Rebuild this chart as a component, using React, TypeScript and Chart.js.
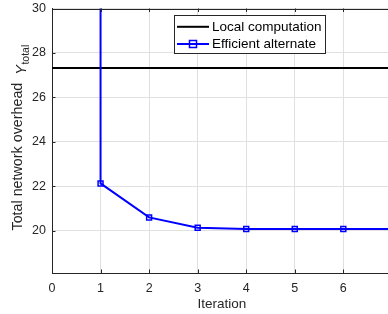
import React, { useEffect, useRef } from "react";
import { Chart, registerables } from "chart.js";

Chart.register(...registerables);

const iterations = [1, 1, 2, 3, 4, 5, 6, 7];
const efficientOverhead = [60, 22.13, 20.6, 20.14, 20.08, 20.08, 20.08, 20.08];
const localX = [0, 7];
const localOverhead = [27.32, 27.32];
const xTicks = [0, 1, 2, 3, 4, 5, 6];
const yTicks = [20, 22, 24, 26, 28, 30];
const seriesLabels = ["Local computation", "Efficient alternate"];
const xTitle = "Iteration";
const yTitleMain = "Total network overhead  ";
const yTitleVar = "Y";
const yTitleSub = "total";

const FONT = "'Liberation Sans', Arial, Helvetica, sans-serif";
const AX = "#262626";

const decorPlugin = {
  id: "decor",
  afterDatasetsDraw(chart: any) {
    const ctx = chart.ctx;
    const { left, right, top, bottom } = chart.chartArea;
    const xs = chart.scales.x;
    const ys = chart.scales.y;
    ctx.save();
    // top border
    ctx.strokeStyle = AX;
    ctx.lineWidth = 1;
    ctx.beginPath();
    ctx.moveTo(left, Math.round(top) + 0.5);
    ctx.lineTo(right, Math.round(top) + 0.5);
    ctx.stroke();
    // inner ticks
    ctx.beginPath();
    xTicks.forEach((v) => {
      const px = Math.round(xs.getPixelForValue(v)) + 0.5;
      ctx.moveTo(px, bottom);
      ctx.lineTo(px, bottom - 3.5);
      ctx.moveTo(px, top);
      ctx.lineTo(px, top + 3.5);
    });
    yTicks.forEach((v) => {
      const py = Math.round(ys.getPixelForValue(v)) + 0.5;
      ctx.moveTo(left, py);
      ctx.lineTo(left + 3.5, py);
    });
    ctx.stroke();

    // x title
    ctx.fillStyle = AX;
    ctx.font = `13.5px ${FONT}`;
    ctx.textAlign = "center";
    ctx.textBaseline = "middle";
    ctx.fillText(xTitle, xs.getPixelForValue(3.5), 304);

    // y title
    const mainFont = `14.3px ${FONT}`;
    const varFont = `italic 14.5px ${FONT}`;
    const subFont = `10.5px ${FONT}`;
    ctx.font = mainFont;
    const w1 = ctx.measureText(yTitleMain).width;
    ctx.font = varFont;
    const w2 = ctx.measureText(yTitleVar).width;
    ctx.translate(22, 230.5);
    ctx.rotate(-Math.PI / 2);
    ctx.textAlign = "left";
    ctx.textBaseline = "alphabetic";
    ctx.font = mainFont;
    ctx.fillText(yTitleMain, 0, 0);
    ctx.font = varFont;
    ctx.fillText(yTitleVar, w1, 4);
    ctx.font = subFont;
    ctx.fillText(yTitleSub, w1 + w2 + 0.5, 7);
    ctx.restore();

    // legend
    ctx.save();
    const bx = 174.5, by = 15.5, bw = 151, bh = 38;
    ctx.fillStyle = "#ffffff";
    ctx.fillRect(bx, by, bw, bh);
    ctx.strokeStyle = AX;
    ctx.lineWidth = 1;
    ctx.strokeRect(bx, by, bw, bh);
    const rows = [26.8, 44];
    chart.data.datasets.forEach((ds: any, i: number) => {
      const yy = rows[i];
      ctx.strokeStyle = ds.borderColor;
      ctx.lineWidth = 2;
      ctx.beginPath();
      ctx.moveTo(177, yy);
      ctx.lineTo(209, yy);
      ctx.stroke();
      if (ds.pointRadius > 0) {
        ctx.lineWidth = 1.5;
        ctx.strokeRect(193 - 3.5, yy - 3.5, 7, 7);
      }
      ctx.fillStyle = "#000000";
      ctx.font = `13.5px ${FONT}`;
      ctx.textAlign = "left";
      ctx.textBaseline = "middle";
      ctx.fillText(ds.label, 212, yy + 0.5);
    });
    ctx.restore();
  },
};

const zeroPad = (s: any) => {
  s.paddingTop = 0;
  s.paddingBottom = 0;
  s.paddingLeft = 0;
  s.paddingRight = 0;
};

export default function App() {
  const ref = useRef<HTMLCanvasElement | null>(null);
  useEffect(() => {
    if (!ref.current) return;
    const chart = new Chart(ref.current, {
      type: "line",
      data: {
        datasets: [
          {
            label: seriesLabels[0],
            data: localX.map((x, i) => ({ x, y: localOverhead[i] })),
            borderColor: "#000000",
            borderWidth: 2,
            pointRadius: 0,
            order: 2,
          },
          {
            label: seriesLabels[1],
            data: iterations.map((x, i) => ({ x, y: efficientOverhead[i] })),
            borderColor: "#0000ff",
            borderWidth: 2,
            pointStyle: "rect",
            pointRadius: 3.5,
            pointBorderWidth: 1.5,
            pointBackgroundColor: "rgba(0,0,0,0)",
            pointBorderColor: "#0000ff",
            order: 1,
          },
        ],
      },
      options: {
        animation: false,
        responsive: false,
        devicePixelRatio: 1,
        layout: { autoPadding: false, padding: { top: 8.5, left: 0, right: 0, bottom: 0 } },
        plugins: { legend: { display: false }, tooltip: { enabled: false } },
        scales: {
          x: {
            type: "linear",
            min: 0,
            max: 6.92,
            afterBuildTicks: (s: any) => {
              s.ticks = xTicks.map((v) => ({ value: v }));
            },
            afterFit: (s: any) => {
              s.height = 41;
              zeroPad(s);
            },
            grid: { color: "#e0e0e0", drawTicks: false, lineWidth: 1 },
            border: { display: true, color: AX, width: 1 },
            ticks: {
              padding: 8,
              color: AX,
              font: { family: FONT, size: 12.5 },
              maxRotation: 0,
            },
          },
          y: {
            type: "linear",
            min: 18.1,
            max: 30,
            afterBuildTicks: (s: any) => {
              s.ticks = yTicks.map((v) => ({ value: v }));
            },
            afterFit: (s: any) => {
              s.width = 52;
              zeroPad(s);
            },
            grid: { color: "#e0e0e0", drawTicks: false, lineWidth: 1 },
            border: { display: true, color: AX, width: 1 },
            ticks: {
              padding: 6,
              color: AX,
              font: { family: FONT, size: 12.5 },
            },
          },
        },
      },
      plugins: [decorPlugin],
    });
    return () => chart.destroy();
  }, []);
  return (
    <div style={{ position: "absolute", left: 0, top: 0, width: 388, height: 314, background: "#fff" }}>
      <canvas ref={ref} width={388} height={314} />
    </div>
  );
}
